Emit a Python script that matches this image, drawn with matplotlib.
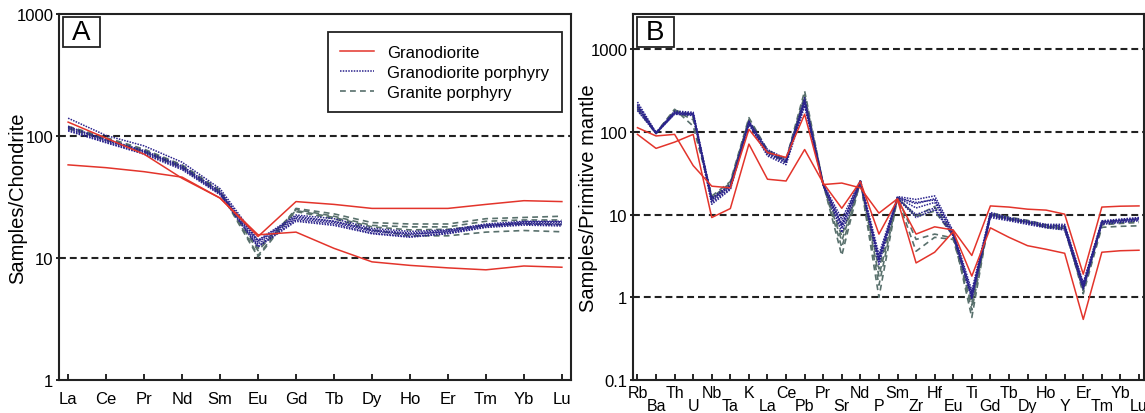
import matplotlib
matplotlib.use('Agg')
import matplotlib.pyplot as plt
from matplotlib.patches import Rectangle
from matplotlib.ticker import FixedLocator

plt.rcParams['font.family'] = ['Liberation Sans', 'DejaVu Sans']

# ---- panel A: chondrite-normalised REE ----
ree = ['La', 'Ce', 'Pr', 'Nd', 'Sm', 'Eu', 'Gd', 'Tb', 'Dy', 'Ho', 'Er', 'Tm', 'Yb', 'Lu']

a_granodiorite = [
    [130, 96, 71, 45, 31, 15.0, 29, 27.5, 25.5, 25.5, 25.5, 27.5, 29.5, 29],
    [58, 55, 51, 46, 31, 15.5, 16.3, 12, 9.3, 8.7, 8.3, 8.0, 8.6, 8.4],
]
a_gd_porphyry = [
    [140, 101, 83, 61, 37, 14.0, 22.5, 21, 17.5, 16.5, 17, 19, 20, 20],
    [118, 94, 76, 57, 35, 13.5, 21.5, 20, 17, 16, 16.8, 18.7, 19.5, 19.5],
    [115, 91, 74, 55, 34, 13, 21, 19.5, 16.5, 15.5, 16.5, 18.5, 19.2, 19],
    [112, 89, 72, 54, 33.5, 12.5, 20.5, 19, 16, 15, 16, 18, 19, 18.7],
    [110, 88, 71, 53, 33, 12.3, 20, 18.5, 15.8, 14.8, 15.8, 17.8, 18.6, 18.3],
    [120, 92, 75, 56, 35, 13.8, 22, 20, 16.8, 15.8, 16.3, 18.2, 19.8, 19.8],
]
a_granite_porphyry = [
    [120, 97, 78, 58, 36, 10.5, 25.5, 23, 19.5, 19, 19, 21, 21.5, 22],
    [117, 95, 76, 56, 35, 10.2, 25, 22, 18.5, 18, 18, 20, 20.5, 20.5],
    [115, 93, 74, 55, 34, 11.5, 24, 21, 17, 15.2, 15.2, 16.3, 16.8, 16.4],
    [118, 94, 75, 57, 35, 12, 24.5, 21.5, 18, 17, 17.2, 18.5, 19, 18.8],
]

# ---- panel B: primitive-mantle-normalised spider ----
elems = ['Rb', 'Ba', 'Th', 'U', 'Nb', 'Ta', 'K', 'La', 'Ce', 'Pb', 'Pr', 'Sr', 'Nd', 'P',
         'Sm', 'Zr', 'Hf', 'Eu', 'Ti', 'Gd', 'Tb', 'Dy', 'Ho', 'Y', 'Er', 'Tm', 'Yb', 'Lu']

b_granodiorite = [
    [112, 89, 93, 39, 22, 21, 107, 56, 49, 163, 23, 24, 21, 10.4, 15.5, 5.8, 7.1, 6.5,
     3.2, 12.7, 12.3, 11.6, 11.3, 10.1, 1.9, 12.3, 12.6, 12.7],
    [93, 63, 75, 93, 9.2, 11.8, 71, 26.7, 25.4, 61, 24, 11.9, 25, 5.8, 15, 2.6, 3.5, 6.2,
     1.8, 6.9, 5.3, 4.2, 3.8, 3.4, 0.54, 3.5, 3.65, 3.7],
]
b_gd_porphyry = [
    [229, 98, 178, 172, 16, 23, 135, 61, 47, 259, 23.5, 8.8, 26, 3.3, 16.5, 15.2, 16.8, 6.3,
     1.2, 10.6, 9.2, 8.4, 7.6, 7.6, 1.5, 8.4, 8.8, 9.2],
    [215, 97, 172, 168, 15, 22, 130, 58, 45, 240, 23, 7.8, 25.5, 3.0, 16, 13.5, 15.5, 6.0,
     1.1, 10.2, 9.0, 8.2, 7.4, 7.3, 1.4, 8.2, 8.6, 9.0],
    [200, 96, 168, 163, 14.5, 21, 127, 55, 43, 225, 23, 7.3, 25, 2.9, 16, 12, 14, 5.8,
     1.04, 9.8, 8.8, 8.0, 7.2, 7.0, 1.35, 8.0, 8.4, 8.8],
    [190, 95, 165, 160, 14, 20.5, 125, 53, 42, 215, 22.5, 6.8, 24.5, 2.8, 15.5, 10, 12, 5.6,
     1.0, 9.5, 8.6, 7.8, 7.0, 6.8, 1.3, 7.8, 8.2, 8.6],
    [180, 95, 163, 157, 13.3, 20, 123, 51, 40, 205, 22.5, 6.1, 24, 2.5, 15.5, 9.2, 11.5, 5.5,
     0.95, 9.2, 8.4, 7.6, 6.9, 6.5, 1.25, 7.6, 8.0, 8.4],
    [210, 97, 170, 165, 15.5, 22, 132, 57, 44, 235, 23, 7.5, 25.5, 2.7, 16, 14, 15, 5.9,
     1.05, 10, 8.9, 8.1, 7.3, 7.2, 1.45, 8.1, 8.5, 8.9],
]
b_granite_porphyry = [
    [205, 97, 187, 117, 16.7, 25, 148, 60, 46, 311, 23.5, 3.2, 25.5, 1.0, 16, 9.6, 12.5, 5.8,
     0.57, 10.5, 9.3, 8.5, 7.5, 7.2, 1.1, 7.0, 7.2, 7.3],
    [195, 96, 183, 150, 16.0, 24, 140, 58, 44, 280, 23, 4.0, 25, 1.4, 16, 9.4, 11, 5.5,
     0.7, 10.2, 9.0, 8.2, 7.2, 6.9, 1.2, 7.8, 8.0, 8.2],
    [185, 95, 180, 160, 15.3, 23, 135, 56, 43, 260, 23, 4.8, 24.5, 1.8, 15.5, 3.6, 5.3, 5.0,
     0.8, 9.8, 8.7, 8.0, 7.0, 6.6, 1.25, 8.2, 8.5, 8.7],
    [200, 96, 178, 140, 15.8, 22, 138, 57, 45, 250, 23, 5.5, 25, 2.2, 16, 5.0, 5.8, 5.2,
     0.85, 10, 8.8, 8.1, 7.1, 6.8, 1.3, 7.5, 7.8, 8.0],
]

RED = '#e3342b'
BLUE = '#2a228c'
GREEN = '#58706c'


def draw_group(ax, rows, style, label):
    x = range(len(rows[0]))
    for i, r in enumerate(rows):
        ax.plot(x, r, label=label if i == 0 else None, **style)


def draw_panel(ax, gd, gdp, gp):
    draw_group(ax, gp, dict(color=GREEN, lw=1.2, ls=(0, (3.5, 2.5))), 'Granite porphyry')
    draw_group(ax, gdp, dict(color=BLUE, lw=1.1, ls=(0, (1, 0.8))), 'Granodiorite porphyry')
    draw_group(ax, gd, dict(color=RED, lw=1.1, ls='-'), 'Granodiorite')


def panel_box(ax, letter):
    ax.add_patch(Rectangle((0.008, 0.91), 0.072, 0.082, transform=ax.transAxes,
                           fc='white', ec='#222222', lw=1.3, zorder=5))
    ax.text(0.044, 0.951, letter, transform=ax.transAxes, ha='center', va='center',
            fontsize=20, zorder=6)


fig = plt.figure(figsize=(11.45, 4.14), dpi=100)
axA = fig.add_axes([59 / 1145, 33 / 414, 512 / 1145, 366 / 414])
axB = fig.add_axes([633 / 1145, 33 / 414, 511 / 1145, 366 / 414])

for ax in (axA, axB):
    for s in ax.spines.values():
        s.set_linewidth(1.5)
        s.set_color('#222222')

# panel A
draw_panel(axA, a_granodiorite, a_gd_porphyry, a_granite_porphyry)
axA.set_yscale('log')
axA.set_ylim(1, 1000)
axA.set_xlim(-0.24, len(ree) - 1 + 0.24)
for v in (10, 100):
    axA.axhline(v, color='#222222', lw=1.5, ls=(0, (3.3, 1.9)), zorder=0.5)
axA.yaxis.set_major_locator(FixedLocator([1, 10, 100, 1000]))
axA.yaxis.set_minor_locator(FixedLocator([]))
axA.set_yticklabels(['1', '10', '100', '1000'])
axA.set_xticks(range(len(ree)))
axA.set_xticklabels(ree)
axA.tick_params(axis='x', direction='in', length=4.5, width=1.2, labelsize=12, pad=8)
axA.tick_params(axis='y', direction='out', length=2, width=1.2, labelsize=12, pad=2)
axA.set_ylabel('Samples/Chondrite', fontsize=14.5)
axA.yaxis.set_label_coords(-0.062, 0.5)
panel_box(axA, 'A')

handles, labels = axA.get_legend_handles_labels()
order = [labels.index('Granodiorite'), labels.index('Granodiorite porphyry'),
         labels.index('Granite porphyry')]
leg = axA.legend([handles[i] for i in order], [labels[i] for i in order],
                 loc='upper right', bbox_to_anchor=(0.982, 0.95), fontsize=12,
                 frameon=True, fancybox=False, edgecolor='#222222', framealpha=1,
                 handlelength=2.0, handletextpad=0.8, labelspacing=0.3,
                 borderpad=0.75, borderaxespad=0)
leg.get_frame().set_linewidth(1.3)
# widen the frame on the left like the reference box
leg._legend_box.sep = 0

# panel B
draw_panel(axB, b_granodiorite, b_gd_porphyry, b_granite_porphyry)
axB.set_yscale('log')
axB.set_ylim(0.1, 2650)
axB.set_xlim(-0.24, len(elems) - 1 + 0.27)
for v in (1, 10, 100, 1000):
    axB.axhline(v, color='#222222', lw=1.5, ls=(0, (3.3, 1.9)), zorder=0.5)
axB.yaxis.set_major_locator(FixedLocator([0.1, 1, 10, 100, 1000]))
axB.yaxis.set_minor_locator(FixedLocator([]))
axB.set_yticklabels(['0.1', '1', '10', '100', '1000'])
axB.set_xticks(range(0, len(elems), 2))
axB.set_xticklabels(elems[0::2])
axB.set_xticks(range(1, len(elems), 2), minor=True)
axB.set_xticklabels(elems[1::2], minor=True)
axB.tick_params(axis='x', which='major', direction='in', length=4.5, width=1.2,
                labelsize=11.5, pad=3.5)
axB.tick_params(axis='x', which='minor', direction='in', length=4.5, width=1.2,
                labelsize=11.5, pad=13)
axB.tick_params(axis='y', direction='out', length=2, width=1.2, labelsize=12, pad=2)
axB.set_ylabel('Samples/Primitive mantle', fontsize=14.5)
axB.yaxis.set_label_coords(-0.068, 0.5)
panel_box(axB, 'B')

fig.savefig('out.png', dpi=100)
